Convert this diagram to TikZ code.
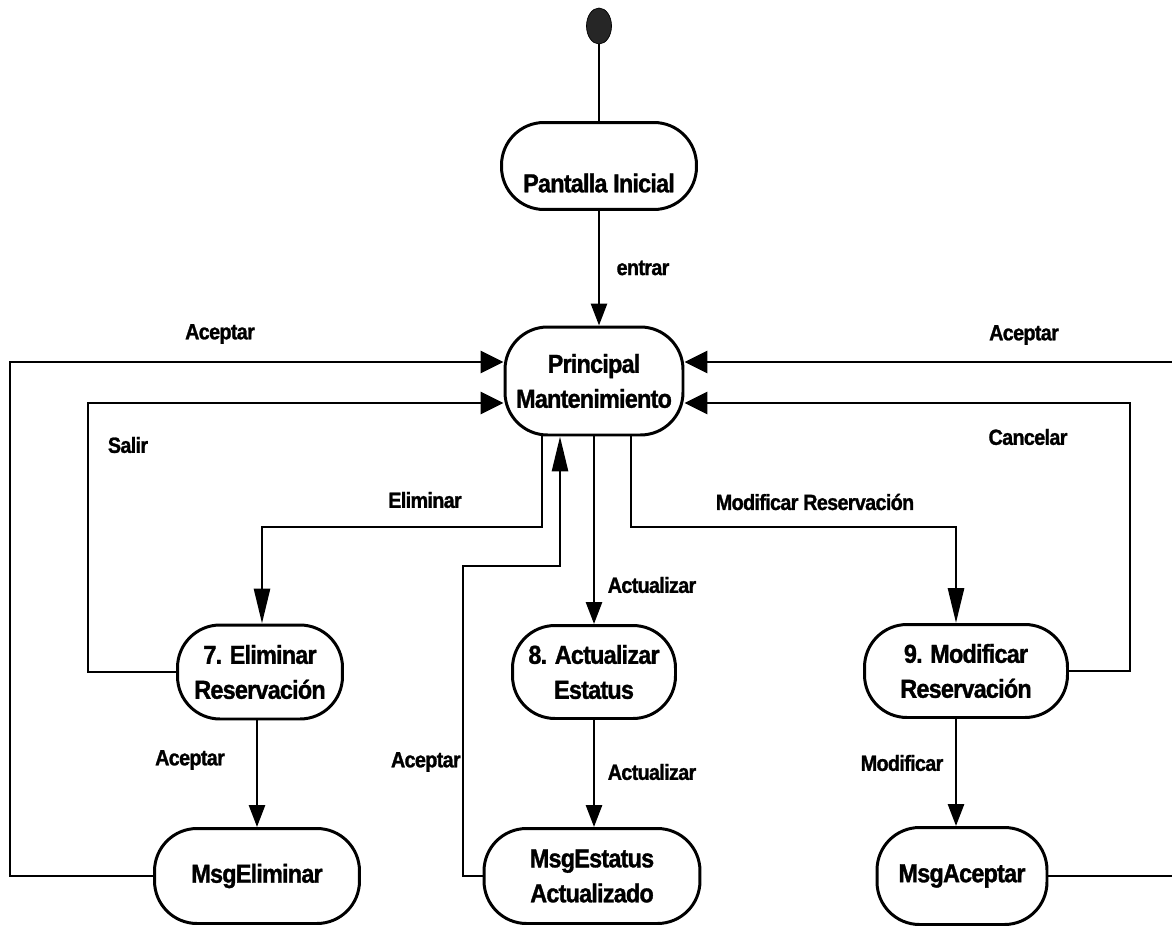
\documentclass[tikz,border=0pt]{standalone}
\usepackage{fontspec}
\newfontfamily\diagfont{Liberation Sans}[FakeStretch=0.9,LetterSpace=-3,FakeBold=1.2]
\usetikzlibrary{arrows.meta,shapes.geometric}

\begin{document}
\begin{tikzpicture}[x=0.02cm,y=-0.02cm,
    estado/.style={draw, line width=1.7pt, rounded corners=0.85cm, align=center, inner sep=0pt,
        font=\diagfont\bfseries\fontsize{14.8}{19.9}\selectfont},
    etiqueta/.style={inner sep=0pt, font=\diagfont\bfseries\fontsize{12.5}{15}\selectfont},
    flujo/.style={line width=1.6pt},
    flecha/.style={flujo, -{Triangle[length=0.44cm,width=0.32cm]}},
    flechalarga/.style={flujo, -{Triangle[length=0.7cm,width=0.32cm]}},
    flechaancha/.style={flujo, -{Triangle[length=0.46cm,width=0.44cm]}}]
  \useasboundingbox (0,0) rectangle (1172,926);

  % estados
  \node[ellipse, draw, fill=black!85, minimum width=0.5cm, minimum height=0.72cm, inner sep=0pt] (inicio) at (599,26) {};
  \node[estado, minimum width=3.9cm, minimum height=1.74cm] (pantalla) at (599,166) {\vphantom{P}\\Pantalla Inicial};
  \node[estado, minimum width=3.56cm, minimum height=2.16cm] (principal) at (594,381) {Principal\\Mantenimiento};
  \node[estado, minimum width=3.3cm, minimum height=1.88cm] (eliminar) at (260,672) {7. Eliminar\\Reservación};
  \node[estado, minimum width=3.26cm, minimum height=1.86cm] (actualizar) at (594,672) {8. Actualizar\\Estatus};
  \node[estado, minimum width=4.06cm, minimum height=1.86cm] (modificar) at (966,671) {9. Modificar\\Reservación};
  \node[estado, minimum width=4.1cm, minimum height=1.9cm] (msgelim) at (257,876) {MsgEliminar};
  \node[estado, minimum width=4.32cm, minimum height=1.9cm] (msgestatus) at (592,876) {MsgEstatus\\Actualizado};
  \node[estado, minimum width=3.4cm, minimum height=1.94cm] (msgacep) at (962,876) {MsgAceptar};

  % codos de las lineas
  \coordinate (izqA) at (10,362);
  \coordinate (izqS) at (88,403);
  \coordinate (derA) at (1185,362);
  \coordinate (derC) at (1130,403);
  \coordinate (bajaE) at (542,527);
  \coordinate (codoE) at (262,527);
  \coordinate (subeA) at (560,566);
  \coordinate (codoA) at (463,566);
  \coordinate (bajaM) at (631,527);
  \coordinate (codoM) at (956,527);

  % transiciones
  \draw[flujo] (inicio) -- (pantalla);
  \draw[flecha] (pantalla.south) -- (pantalla.south |- principal.north);
  \draw[flechaancha] (msgelim.west) -- (msgelim.west -| izqA) -- (izqA) -- (izqA -| principal.west);
  \draw[flechaancha] (eliminar.west) -- (eliminar.west -| izqS) -- (izqS) -- (izqS -| principal.west);
  \draw[flechalarga] (bajaE |- principal.south) -- (bajaE) -- (codoE) -- (codoE |- eliminar.north);
  \draw[flechalarga] (msgestatus.west) -- (msgestatus.west -| codoA) -- (codoA) -- (subeA) -- (subeA |- principal.south);
  \draw[flecha] (actualizar.north |- principal.south) -- (actualizar.north);
  \draw[flechalarga] (bajaM |- principal.south) -- (bajaM) -- (codoM) -- (codoM |- modificar.north);
  \draw[flechaancha] (msgacep.east) -- (msgacep.east -| derA) -- (derA) -- (derA -| principal.east);
  \draw[flechaancha] (modificar.east) -- (modificar.east -| derC) -- (derC) -- (derC -| principal.east);
  \draw[flecha] (msgelim.north |- eliminar.south) -- (msgelim.north);
  \draw[flecha] (actualizar.south) -- (actualizar.south |- msgestatus.north);
  \draw[flecha] (codoM |- modificar.south) -- (codoM |- msgacep.north);

  % etiquetas
  \node[etiqueta] (lEntrar) at (643,268) {entrar};
  \node[etiqueta] (lAcepIzq) at (220,334) {Aceptar};
  \node[etiqueta] (lSalir) at (128,445) {Salir};
  \node[etiqueta] (lEliminar) at (425,500) {Eliminar};
  \node[etiqueta] (lActualizar) at (652,585) {Actualizar};
  \node[etiqueta] (lModRes) at (815,502) {Modificar Reservación};
  \node[etiqueta] (lAcepDer) at (1024,335) {Aceptar};
  \node[etiqueta] (lCancelar) at (1028,437) {Cancelar};
  \node[etiqueta] (lAcepElim) at (190,760) {Aceptar};
  \node[etiqueta, anchor=east] (lAcepEst) at (461,762) {Aceptar};
  \node[etiqueta] (lActEst) at (652,772) {Actualizar};
  \node[etiqueta] (lModif) at (902,763) {Modificar};
\end{tikzpicture}
\end{document}
